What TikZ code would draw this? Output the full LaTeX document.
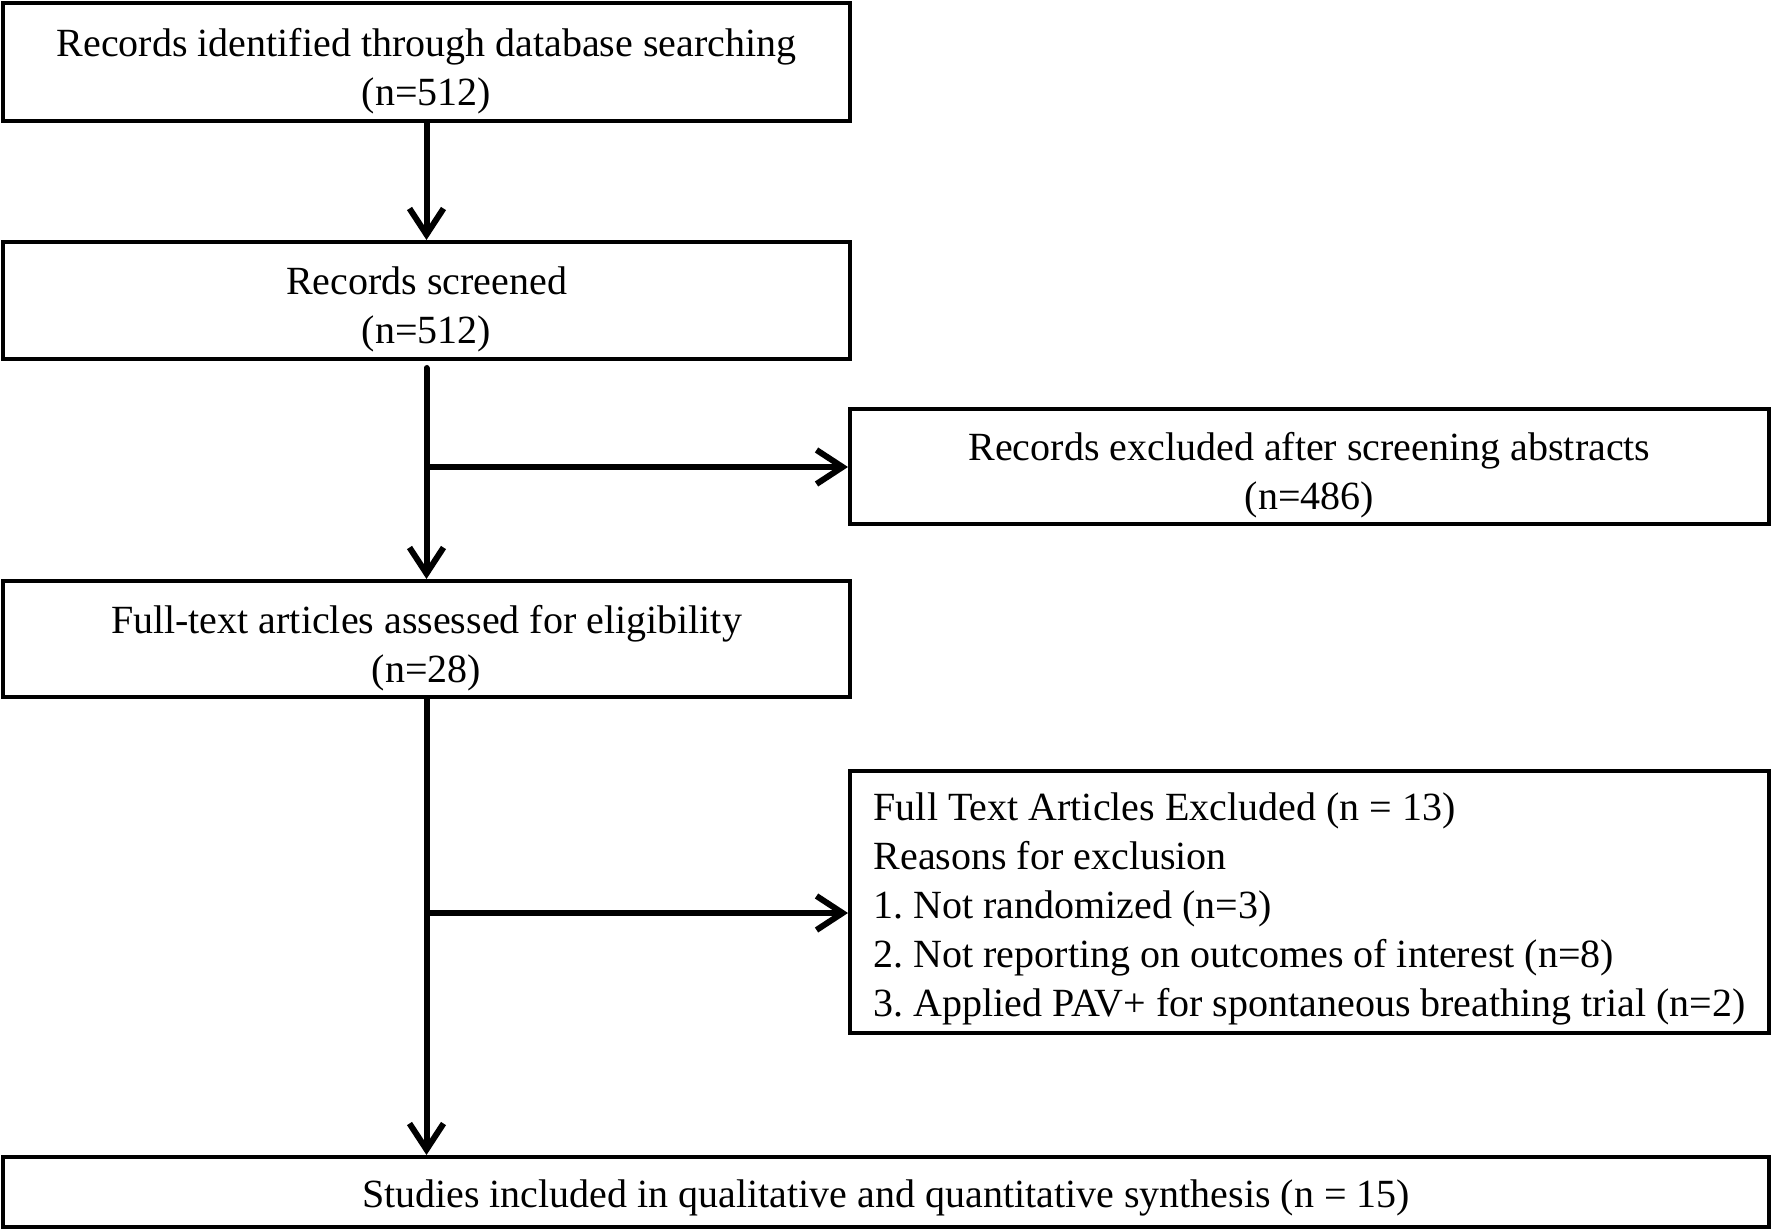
\documentclass[tikz,border=0pt]{standalone}
\usepackage{fontspec}
\setmainfont{Liberation Serif}
\usetikzlibrary{arrows.meta}

% strut that pushes the text a bit down in its box
\newcommand{\lift}[1]{\rule{0pt}{#1}}

\begin{document}
\begin{tikzpicture}[x=0.5pt, y=-0.5pt]

\def \leftw {423.5pt}
\def \rightw {459.5pt}

\tikzset{box/.style = {draw, line width=2pt, rectangle, align=center, inner sep=0pt,
	font=\fontsize{20pt}{24.5pt}\selectfont\frenchspacing}}
\tikzset{arr/.style = {line width=3pt, line cap=round, -{Straight Barb[length=13pt, width=17pt, line width=3pt]}}}

\useasboundingbox (0, 0) rectangle (1772, 1229);

\node[box, minimum width=\leftw, minimum height=59pt] (ident) at (426.5, 62) {\lift{23pt}Records identified through database searching\\(n=512)};
\node[box, minimum width=\leftw, minimum height=58.5pt] (scr) at (426.5, 300.5) {\lift{23pt}Records screened\\(n=512)};
\node[box, minimum width=\rightw, minimum height=57.5pt] (exa) at (1309.5, 466.5) {\lift{23pt}Records excluded after screening abstracts\\(n=486)};
\node[box, minimum width=\leftw, minimum height=58pt] (full) at (426.5, 639) {\lift{23pt}Full-text articles assessed for eligibility\\(n=28)};
\node[box, minimum width=\rightw, minimum height=131pt, align=left] (exf) at (1309.5, 902)
	{\lift{20.5pt}Full Text Articles Excluded (n = 13)\\Reasons for exclusion\\1. Not randomized (n=3)\\2. Not reporting on outcomes of interest (n=8)\\3. Applied PAV+ for spontaneous breathing trial (n=2)};
\node[box, minimum width=883pt, minimum height=35pt] (incl) at (886, 1192) {\lift{20pt}Studies included in qualitative and quantitative synthesis (n = 15)};

\coordinate (b1) at (427, 467);
\coordinate (b2) at (427, 913);

\draw[arr] (ident) -- (scr);
\draw[arr] ([yshift=-3.5pt]scr.south) -- (full);
\draw[arr] (b1) -- (exa.west |- b1);
\draw[arr] (full.south) -- (full.south |- incl.north);
\draw[arr] (b2) -- (exf.west |- b2);

\end{tikzpicture}
\end{document}
